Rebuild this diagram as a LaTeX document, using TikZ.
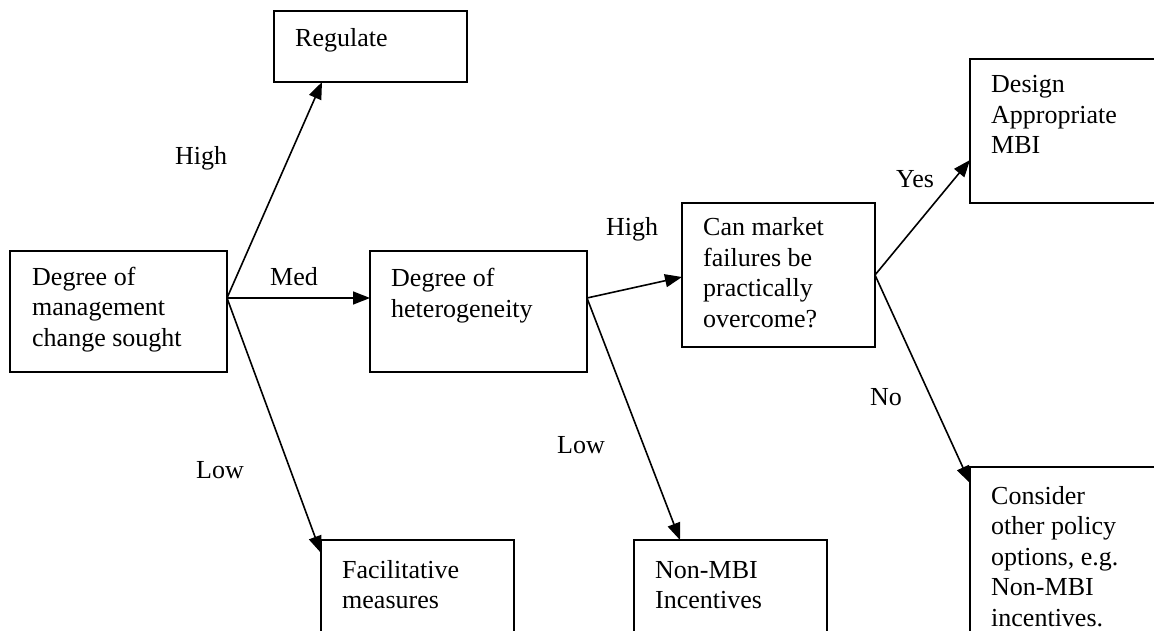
\documentclass[tikz,border=0pt]{standalone}
\usepackage{fontspec}
\setmainfont{Liberation Serif}
\usetikzlibrary{arrows.meta}
\tikzset{
  box/.style={draw, line width=1.8pt, rectangle, inner sep=0pt, outer sep=0pt, anchor=north west},
  txt/.style={anchor=base west, inner sep=0pt, font=\fontsize{26}{30.5}\selectfont},
  lbl/.style={anchor=base, inner sep=0pt, font=\fontsize{26}{30.5}\selectfont},
  arr/.style={line width=1.6pt, -{Triangle[length=17pt,width=13pt]}}
}
\begin{document}
\begin{tikzpicture}[x=1pt,y=-1pt]
\clip (0,0) rectangle (1154,631);
\fill[white] (0,0) rectangle (1154,631);
% boxes
\node[box, minimum width=193pt, minimum height=71pt] (R) at (274,11) {};
\node[box, minimum width=217pt, minimum height=121pt] (A) at (10,251) {};
\node[box, minimum width=217pt, minimum height=121pt] (H) at (370,251) {};
\node[box, minimum width=193pt, minimum height=144pt] (C) at (682,203) {};
\node[box, minimum width=260pt, minimum height=144pt] (D) at (970,59) {};
\node[box, minimum width=193pt, minimum height=200pt] (F) at (321,540) {};
\node[box, minimum width=193pt, minimum height=200pt] (N) at (634,540) {};
\node[box, minimum width=260pt, minimum height=250pt] (K) at (970,467) {};
% texts
\node[txt] (tR) at ([shift={(21pt,-36pt)}]R.north west) {\parbox[t]{180pt}{\raggedright Regulate}};
\node[txt] (tA) at ([shift={(22pt,-34pt)}]A.north west) {\parbox[t]{200pt}{\raggedright Degree of\\management\\change sought}};
\node[txt] (tH) at ([shift={(21pt,-36pt)}]H.north west) {\parbox[t]{200pt}{\raggedright Degree of\\heterogeneity}};
\node[txt] (tC) at ([shift={(21pt,-33pt)}]C.north west) {\parbox[t]{180pt}{\raggedright Can market\\failures be\\practically\\overcome?}};
\node[txt] (tD) at ([shift={(21pt,-34pt)}]D.north west) {\parbox[t]{180pt}{\raggedright Design\\Appropriate\\MBI}};
\node[txt] (tF) at ([shift={(21pt,-38pt)}]F.north west) {\parbox[t]{180pt}{\raggedright Facilitative\\measures}};
\node[txt] (tN) at ([shift={(21pt,-38pt)}]N.north west) {\parbox[t]{180pt}{\raggedright Non-MBI\\Incentives}};
\node[txt] (tK) at ([shift={(21pt,-37pt)}]K.north west) {\parbox[t]{180pt}{\raggedright Consider\\other policy\\options, e.g.\\Non-MBI\\incentives.}};
% connector ends
\coordinate (Ao) at ([yshift=-47pt]A.north east);
\coordinate (Ho) at ([yshift=-47pt]H.north east);
% connectors
\draw[arr] (Ao) -- ([xshift=48pt]R.south west);
\draw[arr] (Ao) -- ([yshift=-47pt]H.north west);
\draw[arr] (Ao) -- ([yshift=-13pt]F.north west);
\draw[arr] (Ho) -- ([yshift=-2pt]C.west);
\draw[arr] (Ho) -- ([xshift=46pt]N.north west);
\draw[arr] (C.east) -- ([yshift=-101pt]D.north west);
\draw[arr] (C.east) -- ([yshift=-16pt]K.north west);
% labels
\node[lbl] (l1) at (201,165) {High};
\node[lbl] (l2) at (294,285) {Med};
\node[lbl] (l3) at (220,478) {Low};
\node[lbl] (l4) at (632,236) {High};
\node[lbl] (l5) at (581,453) {Low};
\node[lbl] (l6) at (915,188) {Yes};
\node[lbl] (l7) at (886,405) {No};
\end{tikzpicture}
\end{document}
